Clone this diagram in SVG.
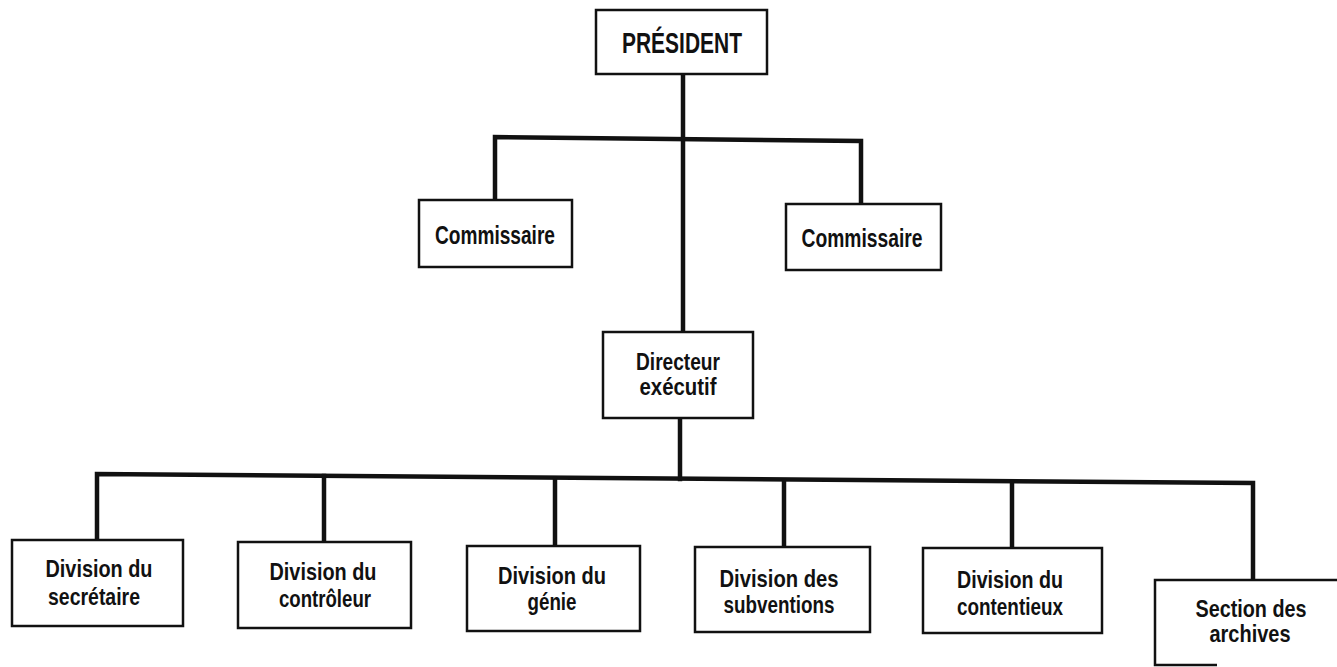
<svg xmlns="http://www.w3.org/2000/svg" width="1337" height="667" viewBox="0 0 1337 667">
<style>
.box{fill:#fff;stroke:#111;stroke-width:2.5}
.ln{stroke:#111;stroke-width:4.5;fill:none;stroke-linecap:square}
text{font-family:"Liberation Sans",Arial,sans-serif;font-weight:bold;fill:#111;text-anchor:middle}
.t{font-size:24px}
.c{font-size:25px}
.p{font-size:29px}
</style>
<rect width="1337" height="667" fill="#fff"/>
<g id="connectors">
<path class="ln" d="M683 74 V332"/>
<path class="ln" d="M495 200 V137 L861 141 V204"/>
<path class="ln" d="M680 418 V479"/>
<path class="ln" d="M97 540 V474 L1253 483 V580"/>
<path class="ln" d="M324 476 V542"/>
<path class="ln" d="M555 479 V546"/>
<path class="ln" d="M784 481 V547"/>
<path class="ln" d="M1012 482 V548"/>
</g>
<g id="president">
<rect class="box" x="596" y="10" width="171" height="64"/>
<text class="p" x="682" y="53" textLength="120" lengthAdjust="spacingAndGlyphs">PRÉSIDENT</text>
</g>
<g id="commissaire1">
<rect class="box" x="419" y="200" width="153" height="67"/>
<text class="c" x="495" y="244" textLength="120" lengthAdjust="spacingAndGlyphs">Commissaire</text>
</g>
<g id="commissaire2">
<rect class="box" x="786" y="204" width="155" height="66"/>
<text class="c" x="862" y="247" textLength="121" lengthAdjust="spacingAndGlyphs">Commissaire</text>
</g>
<g id="directeur">
<rect class="box" x="603" y="332" width="150" height="86"/>
<text class="t" x="678" y="370" textLength="84" lengthAdjust="spacingAndGlyphs">Directeur</text>
<text class="t" x="678" y="395" textLength="77" lengthAdjust="spacingAndGlyphs">exécutif</text>
</g>
<g id="div-secretaire">
<rect class="box" x="12" y="540" width="171" height="86"/>
<text class="t" x="99" y="577" textLength="107" lengthAdjust="spacingAndGlyphs">Division du</text>
<text class="t" x="94" y="605" textLength="92" lengthAdjust="spacingAndGlyphs">secrétaire</text>
</g>
<g id="div-controleur">
<rect class="box" x="238" y="542" width="173" height="86"/>
<text class="t" x="323" y="580" textLength="107" lengthAdjust="spacingAndGlyphs">Division du</text>
<text class="t" x="325" y="607" textLength="92" lengthAdjust="spacingAndGlyphs">contrôleur</text>
</g>
<g id="div-genie">
<rect class="box" x="467" y="546" width="173" height="85"/>
<text class="t" x="552" y="584" textLength="108" lengthAdjust="spacingAndGlyphs">Division du</text>
<text class="t" x="552" y="610" textLength="49" lengthAdjust="spacingAndGlyphs">génie</text>
</g>
<g id="div-subventions">
<rect class="box" x="695" y="547" width="175" height="85"/>
<text class="t" x="779" y="587" textLength="119" lengthAdjust="spacingAndGlyphs">Division des</text>
<text class="t" x="779" y="613" textLength="111" lengthAdjust="spacingAndGlyphs">subventions</text>
</g>
<g id="div-contentieux">
<rect class="box" x="923" y="548" width="179" height="85"/>
<text class="t" x="1010" y="588" textLength="106" lengthAdjust="spacingAndGlyphs">Division du</text>
<text class="t" x="1010" y="615" textLength="106" lengthAdjust="spacingAndGlyphs">contentieux</text>
</g>
<g id="section-archives">
<path class="box" d="M1345 580 H1155 V665 H1217" fill="none"/>
<text class="t" x="1251" y="617" textLength="111" lengthAdjust="spacingAndGlyphs">Section des</text>
<text class="t" x="1250" y="642" textLength="81" lengthAdjust="spacingAndGlyphs">archives</text>
</g>
</svg>
